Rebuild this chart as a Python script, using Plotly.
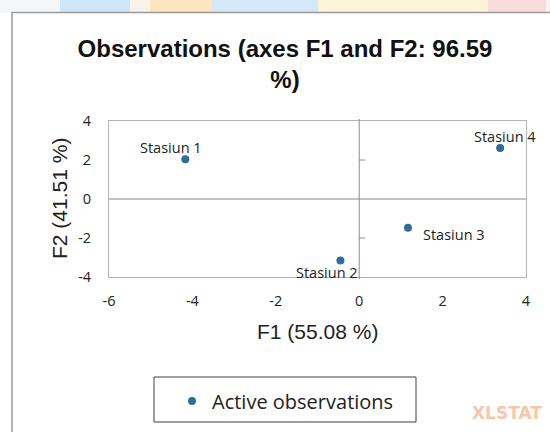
import plotly.graph_objects as go

# ---- data ----
station_names = ["Stasiun 1", "Stasiun 2", "Stasiun 3", "Stasiun 4"]
f1_values = [-4.17, -0.45, 1.17, 3.38]
f2_values = [2.04, -3.15, -1.47, 2.62]
x_tick_values = [-6, -4, -2, 0, 2, 4]
x_tick_labels = ["-6", "-4", "-2", "0", "2", "4"]
y_tick_values = [-4, -2, 0, 2, 4]
y_tick_labels = ["-4", "-2", "0", "2", "4"]
title_text = "Observations (axes F1 and F2: 96.59<br>%)"
x_title = "F1 (55.08 %)"
y_title = "F2 (41.51 %)"
legend_name = "Active observations"

# label offsets in pixels (style)
label_shift = [(-14.5, 11.3), (-13.3, -11.8), (46, -7.3), (5, 11.7)]

W, H = 550, 432
L, R, T, B = 109, 24, 121, 155
PW, PH = W - L - R, H - T - B


def px(X):
    return (X - L) / PW


def py(Y):
    return (H - B - Y) / PH


marker_color = "#2f6e9b"

fig = go.Figure()
fig.add_trace(go.Scatter(
    x=f1_values, y=f2_values, mode="markers", name=legend_name,
    marker=dict(color=marker_color, size=8),
    showlegend=True,
))

annotations = []
for name, xv, yv, (dx, dy) in zip(station_names, f1_values, f2_values, label_shift):
    annotations.append(dict(
        x=xv, y=yv, xref="x", yref="y", text=name, showarrow=False,
        xshift=dx, yshift=dy, xanchor="center", yanchor="middle",
        font=dict(family="Open Sans", size=14.5, color="#222222"),
    ))

annotations.append(dict(
    x=0.5, y=py(331), xref="paper", yref="paper", text=x_title, showarrow=False,
    xanchor="center", yanchor="middle",
    font=dict(family="Liberation Sans, Arial", size=21, color="#222222"),
))
annotations.append(dict(
    x=px(59), y=0.5, xref="paper", yref="paper", text=y_title, showarrow=False,
    textangle=-90, xanchor="center", yanchor="middle",
    font=dict(family="Liberation Sans, Arial", size=21, color="#222222"),
))
annotations.append(dict(
    x=px(470), y=py(413), xref="paper", yref="paper", text="<b>XLSTAT</b>",
    showarrow=False, xanchor="left", yanchor="middle",
    font=dict(family="DejaVu Sans", size=17, color="#f5c7ab"),
))

shapes = []
# colourful band above the frame (background of the screenshot)
band = [(0, 60, "#f4f6f8"), (60, 130, "#cfe6f8"), (130, 150, "#f7f3ea"),
        (150, 212, "#fbe6bf"), (212, 318, "#d3e9fa"), (318, 488, "#fcf4d6"),
        (488, 546, "#f8dcdc"), (546, 550, "#f3f3f3")]
for x0, x1, c in band:
    shapes.append(dict(type="rect", xref="paper", yref="paper",
                       x0=px(x0), x1=px(x1), y0=py(12.5), y1=py(-1),
                       fillcolor=c, line=dict(width=0), layer="below"))
# outer frame
shapes.append(dict(type="rect", xref="paper", yref="paper",
                   x0=px(12), x1=px(570), y0=py(450), y1=py(12.5),
                   line=dict(color="#9a9a9a", width=1.5), fillcolor="rgba(0,0,0,0)"))
# zero lines
shapes.append(dict(type="line", xref="x", yref="paper", x0=0, x1=0, y0=py(279), y1=py(119),
                   line=dict(color="#8a8a8a", width=1)))
shapes.append(dict(type="line", xref="paper", yref="y", x0=0, x1=1, y0=0, y1=0,
                   line=dict(color="#8a8a8a", width=1)))
# small ticks on vertical zero line
for yt in [2, -2]:
    shapes.append(dict(type="line", xref="x", yref="y", xsizemode="pixel", xanchor=0,
                       x0=0, x1=6, y0=yt, y1=yt, line=dict(color="#8a8a8a", width=1)))
# legend box
shapes.append(dict(type="rect", xref="paper", yref="paper",
                   x0=px(154), x1=px(416), y0=py(422), y1=py(377),
                   line=dict(color="#404040", width=1), fillcolor="rgba(0,0,0,0)"))

axis_common = dict(
    showgrid=False, zeroline=False, showline=True, mirror=True,
    linecolor="#b4b4b4", linewidth=1, ticks="",
    tickfont=dict(family="Open Sans", size=14.5, color="#222222"),
)

fig.update_layout(
    width=W, height=H,
    margin=dict(l=L, r=R, t=T, b=B, pad=0),
    paper_bgcolor="white", plot_bgcolor="white",
    title=dict(text="<b>" + title_text + "</b>", xref="container", yref="container",
               x=285 / W, xanchor="center", y=1 - 57 / H, yanchor="top",
               font=dict(family="Liberation Sans, Arial", size=24, color="#111111")),
    xaxis=dict(range=[-6, 4], tickvals=x_tick_values, ticktext=x_tick_labels,
               ticklabelstandoff=11, **axis_common),
    yaxis=dict(range=[-4, 4], tickvals=y_tick_values, ticktext=y_tick_labels,
               ticklabelstandoff=14, **axis_common),
    showlegend=True,
    legend=dict(xref="paper", yref="paper", x=px(172), xanchor="left",
                y=py(401), yanchor="middle", bgcolor="rgba(0,0,0,0)",
                borderwidth=0, font=dict(family="Open Sans", size=20, color="#222222"),
                itemclick=False),
    annotations=annotations,
    shapes=shapes,
)

fig.write_html("out.html", config={"displayModeBar": False},
               post_script="document.body.style.margin='0';document.body.style.padding='0';")
